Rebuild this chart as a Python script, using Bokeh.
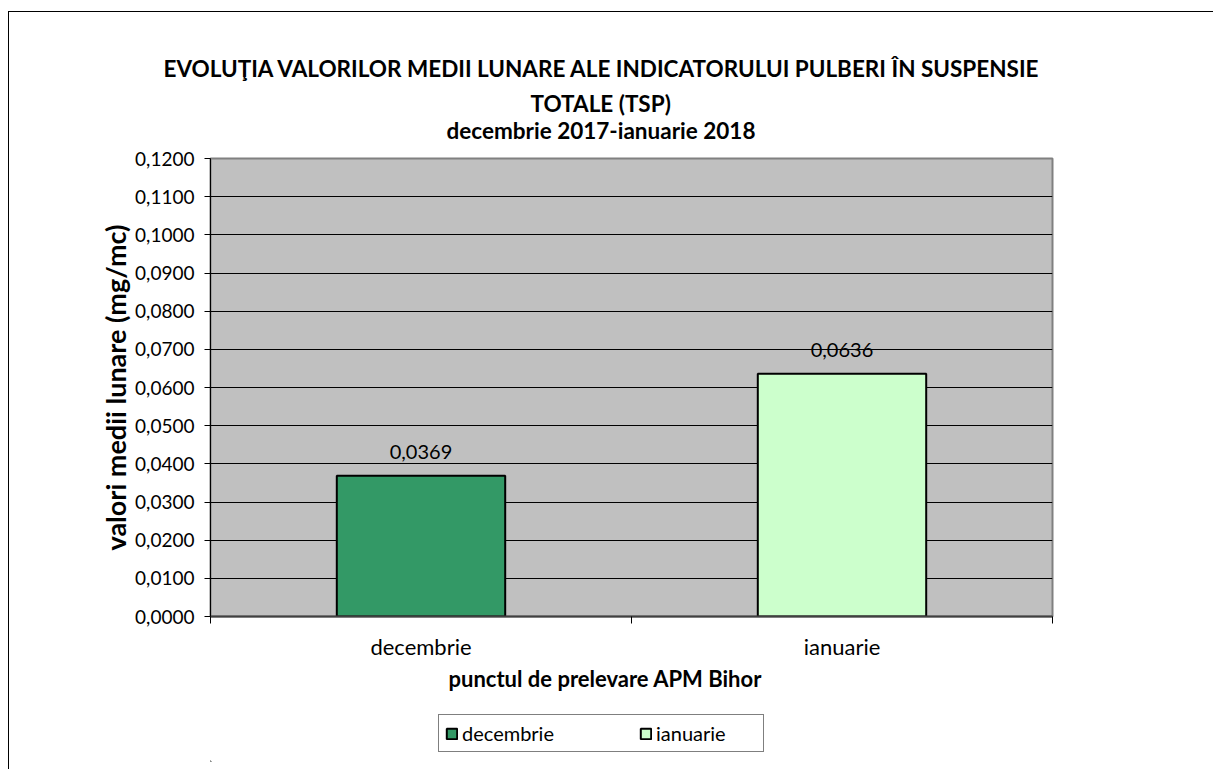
from bokeh.plotting import figure
from bokeh.models import (ColumnDataSource, FixedTicker, CustomJSTickFormatter, Range1d,
                          Title, Legend, LegendItem)
from bokeh.layouts import column
from bokeh.embed import file_html
from bokeh.resources import INLINE
from bokeh.core.properties import value

# ---- data ----
categories = ["decembrie", "ianuarie"]
values = [0.0369, 0.0636]
colors = ["#339966", "#CCFFCC"]
y_ticks = [0.00, 0.01, 0.02, 0.03, 0.04, 0.05, 0.06, 0.07, 0.08, 0.09, 0.10, 0.11, 0.12]
title_lines = ["EVOLUŢIA VALORILOR MEDII LUNARE ALE INDICATORULUI PULBERI ÎN SUSPENSIE",
               "TOTALE  (TSP)",
               "decembrie 2017-ianuarie 2018"]
x_title = "punctul de prelevare APM Bihor"
y_title = "valori medii lunare (mg/mc)"

FONT = "Lato"
OX = 9                 # page x of the canvases (inside the outer border)
W = 1205

# ---------------- main plot ----------------
P_Y0, P_H = 12, 688
FL, FR, FT, FB = 210 - OX, 1052 - OX, 158 - P_Y0, 616 - P_Y0

p = figure(width=W, height=P_H, output_backend="svg", toolbar_location=None,
           x_range=Range1d(0, len(categories)), y_range=Range1d(y_ticks[0], y_ticks[-1]),
           min_border_left=FL, min_border_right=W - FR, min_border_top=FT, min_border_bottom=P_H - FB)
p.background_fill_color = "#C0C0C0"
p.border_fill_color = "white"
p.outline_line_color = "#808080"
p.outline_line_width = 2

xs = [i + 0.5 for i in range(len(categories))]
labels = [f"{v:.4f}".replace(".", ",") for v in values]
src = ColumnDataSource(dict(x=xs, top=values, lab=labels))

for i in range(len(categories)):
    p.vbar(x=[xs[i]], top=[values[i]], width=0.4, bottom=0,
           fill_color=colors[i], line_color="black", line_width=2)

p.text(x="x", y="top", text="lab", source=src, text_align="center", text_baseline="middle",
       y_offset=-24, text_font=value(FONT), text_font_size="20px", text_color="black")

p.xgrid.visible = False
p.ygrid.ticker = FixedTicker(ticks=y_ticks)
p.ygrid.grid_line_color = "black"
p.ygrid.grid_line_width = 1

p.yaxis.ticker = FixedTicker(ticks=y_ticks)
p.yaxis.formatter = CustomJSTickFormatter(code="return tick.toFixed(4).replace('.', ',');")
p.yaxis.major_label_text_font = FONT
p.yaxis.major_label_text_font_size = "19px"
p.yaxis.major_label_text_color = "black"
p.yaxis.major_tick_out = 6
p.yaxis.major_tick_in = 0
p.yaxis.minor_tick_out = 0
p.yaxis.minor_tick_in = 0
p.yaxis.major_label_standoff = 10
p.yaxis.axis_line_color = "black"
p.yaxis.axis_label = y_title
p.yaxis.axis_label_text_font = FONT
p.yaxis.axis_label_text_font_style = "bold"
p.yaxis.axis_label_text_font_size = "27px"
p.yaxis.axis_label_text_color = "black"
p.yaxis.axis_label_standoff = 0

p.xaxis.ticker = FixedTicker(ticks=xs, minor_ticks=list(range(len(categories) + 1)))
p.xaxis.major_label_overrides = {xs[i]: categories[i] for i in range(len(categories))}
p.xaxis.major_tick_out = 0
p.xaxis.major_tick_in = 0
p.xaxis.minor_tick_out = 7
p.xaxis.minor_tick_in = 0
p.xaxis.minor_tick_line_color = "black"
p.xaxis.axis_line_color = "#404040"
p.xaxis.axis_line_width = 2
p.xaxis.major_label_text_font = FONT
p.xaxis.major_label_text_font_size = "22px"
p.xaxis.major_label_text_color = "black"
p.xaxis.major_label_standoff = 9

# titles above (first added = closest to the plot); a blank spacer first
p.add_layout(Title(text=" ", text_color="white", text_font=FONT, text_font_size="1px",
                   standoff=12), "above")
for txt, st, off in zip(reversed(title_lines), [0, -4, 16], [236, 320, -47]):
    p.add_layout(Title(text=txt, align="left", offset=off, text_font=FONT,
                       text_font_style="bold", text_font_size="22.5px", text_color="black",
                       standoff=st), "above")

p.add_layout(Title(text=x_title, align="left", offset=238, text_font=FONT,
                   text_font_style="bold", text_font_size="22px", text_color="black",
                   standoff=0), "below")
p.styles = {"border-left": "1px solid black", "border-top": "1px solid black"}
p.margin = (P_Y0 - 1, 0, 0, OX - 1)

# ---------------- legend strip ----------------
L_Y0, L_H = P_Y0 + P_H, 70
q = figure(width=W, height=L_H, output_backend="svg", toolbar_location=None,
           x_range=Range1d(100, 102), y_range=Range1d(1, 2),
           x_axis_type=None, y_axis_type=None,
           min_border_left=FL, min_border_right=W - FR, min_border_top=705 - L_Y0,
           min_border_bottom=L_Y0 + L_H - 762)
q.outline_line_color = None
q.grid.visible = False
q.background_fill_color = "white"
# legend proxies (same bars, placed outside the strip's visible ranges)
leg_r = [q.vbar(x=[xs[i]], top=[values[i]], width=0.4, fill_color=colors[i],
                line_color="black", line_width=2) for i in range(len(categories))]
leg = Legend(items=[LegendItem(label=categories[i], renderers=[leg_r[i]]) for i in range(len(categories))],
             orientation="horizontal", location=(438 - 210, 762 - 753), border_line_color="black",
             border_line_width=1, background_fill_color="white", background_fill_alpha=1,
             label_text_font=FONT, label_text_font_size="20px", label_text_color="black",
             glyph_width=13, glyph_height=13, label_standoff=4, spacing=76, label_width=101,
             padding=6, margin=0)
q.add_layout(leg, "center")
q.styles = {"border-left": "1px solid black"}
q.margin = (0, 0, 0, OX - 1)

layout = column(p, q, spacing=0)
open("out.html", "w").write(file_html(layout, INLINE))
